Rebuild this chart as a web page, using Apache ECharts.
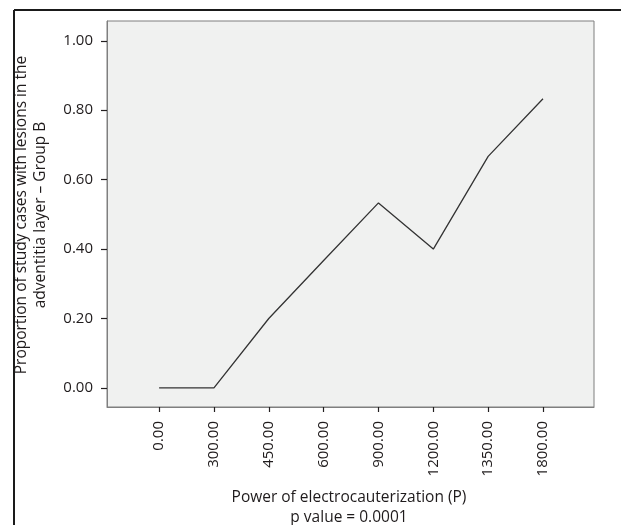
<!DOCTYPE html>
<html>
<head>
<meta charset="utf-8">
<script src="https://cdn.jsdelivr.net/npm/echarts@6/dist/echarts.min.js"></script>
<style>html,body{margin:0;padding:0;background:#fff}#c{width:621px;height:525px}</style>
</head>
<body>
<div id="c"></div>
<script>
const categories = ['0.00','300.00','450.00','600.00','900.00','1200.00','1350.00','1800.00'];
const values = [0, 0, 0.20, 0.367, 0.533, 0.40, 0.667, 0.833];
const yTicks = [0, 0.2, 0.4, 0.6, 0.8, 1.0];
const xTitle = 'Power of electrocauterization (P)';
const xSubtitle = 'p value = 0.0001';
const yTitle1 = 'Proportion of study cases with lesions in the';
const yTitle2 = 'adventitia layer \u2013 Group B';

const FONT = 'Open Sans';
const TXT = '#1f1b1c';
const TFONT = '15.5px "' + FONT + '"';
const chart = echarts.init(document.getElementById('c'), null, {renderer: 'canvas'});
const idx = categories.map((c, i) => i);
chart.setOption({
  animation: false,
  backgroundColor: '#ffffff',
  grid: {left: 107, top: 21, right: 27, bottom: 118, show: true, backgroundColor: '#f0f1f0', borderColor: '#7f7f7f', borderWidth: 1},
  xAxis: {
    type: 'value', min: -0.95, max: 7.93,
    axisLine: {show: true, onZero: false, lineStyle: {color: '#7f7f7f', width: 1}},
    axisTick: {show: true, customValues: idx, length: 5, lineStyle: {color: '#231f20', width: 1.2}},
    axisLabel: {customValues: idx, rotate: 90, margin: 14, fontFamily: FONT, fontSize: 15, color: TXT,
      formatter: v => categories[Math.round(v)]},
    splitLine: {show: false}
  },
  yAxis: {
    type: 'value', min: -0.055, max: 1.057,
    axisLine: {show: true, onZero: false, lineStyle: {color: '#7f7f7f', width: 1}},
    axisTick: {show: true, customValues: yTicks, length: 6, lineStyle: {color: '#231f20', width: 1.2}},
    axisLabel: {customValues: yTicks, margin: 14, fontFamily: FONT, fontSize: 15, color: TXT,
      formatter: v => v.toFixed(2)},
    splitLine: {show: false}
  },
  series: [{
    type: 'line', data: values.map((v, i) => [i, v]), symbol: 'none',
    lineStyle: {color: '#333333', width: 1.3}
  }],
  graphic: [
    {type: 'line', shape: {x1: 14, y1: 10, x2: 621, y2: 10}, style: {stroke: '#1a1a1a', lineWidth: 2}, z: 100},
    {type: 'line', shape: {x1: 14, y1: 10, x2: 14, y2: 525}, style: {stroke: '#1a1a1a', lineWidth: 2}, z: 100},
    {type: 'text', x: 349, y: 498, style: {text: xTitle, font: TFONT, fill: TXT, textAlign: 'center', textVerticalAlign: 'middle'}},
    {type: 'text', x: 349, y: 518, style: {text: xSubtitle, font: TFONT, fill: TXT, textAlign: 'center', textVerticalAlign: 'middle'}},
    {type: 'text', x: 22, y: 215, rotation: Math.PI / 2, style: {text: yTitle1, font: TFONT, fill: TXT, textAlign: 'center', textVerticalAlign: 'middle'}},
    {type: 'text', x: 41, y: 215, rotation: Math.PI / 2, style: {text: yTitle2, font: TFONT, fill: TXT, textAlign: 'center', textVerticalAlign: 'middle'}}
  ]
});
</script>
</body>
</html>
